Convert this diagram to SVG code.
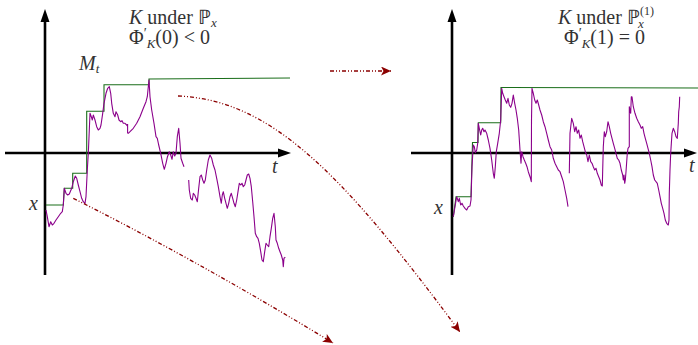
<svg xmlns="http://www.w3.org/2000/svg" width="698" height="345" viewBox="0 0 698 345">
<style>
.axis{stroke:#000;stroke-width:2.6;fill:none}
.tip{fill:#000}
.max{stroke:#1a6e1a;stroke-width:1.1;fill:none}
.path{stroke:#8b008b;stroke-width:1.1;fill:none;stroke-linejoin:round}
.flow{stroke:#8b0000;stroke-width:1.3;fill:none;stroke-dasharray:4 2 1 2 1 2}
text{font-family:"Liberation Serif","Times New Roman",serif;font-size:20px;fill:#333}
.it{font-style:italic}
</style>
<defs>
<marker id="ah" markerUnits="userSpaceOnUse" markerWidth="12" markerHeight="10" refX="10" refY="4.5" orient="auto">
<path d="M0,0 L10,4.5 L0,9 L2.5,4.5 Z" fill="#8b0000"/>
</marker>
</defs>

<g id="left-graph">
<line class="axis" x1="45" y1="275" x2="45" y2="20"/>
<polygon class="tip" points="45,9 40.5,22 49.5,22"/>
<line class="axis" x1="5" y1="153" x2="280" y2="153"/>
<polygon class="tip" points="291,153 278,148.5 278,157.5"/>
<polyline class="max" points="46,205 63.3,205 64.3,188.3 72.7,188.3 72.7,173.3 86.7,173.3 86.7,111.3 104,111.3 104,84.7 149,84.7 149,79 290,78"/>
<path class="path" d="M46,210 L47.3,216.7 49,226.7 50.7,221.7 52.3,225 54,223.3 56,220 58.3,216.7 60.7,213.3 62.3,211.7 63.3,205 64.3,188.3 66,193.3 67.7,195 69.3,194 71.7,188.3 73.3,181.7 75.3,176 76.7,178.3 78.3,185 80,191.7 81.7,198.3 83.3,201.7 85,203.3 86,196.7 87.3,170 88.3,153.3 89.3,130 90,113.3 91.3,116.7 92.3,120 93.3,115 95,120 96.7,126.7 98.3,130 100,128.3 101,125 102.7,113.3 104,103.3 106,93.3 107.7,88.3 109.3,86.7 110.7,93.3 111.7,103.3 113.3,113.3 115,116.7 116,111.7 117.7,115 119,120 120.7,121.7 122,120.7 123.3,123.3 125,123.3 126.7,125 127.3,126 M127.6,124 L127.6,133 128.3,133.3 130,131.7 133.3,128.3 136.7,123.3 140,116.7 143.3,108.3 146,101.7 147.3,96.7 148.3,86.7 149,80 150,96.7 151.7,110 154,123.3 156,136.7 157.3,138.3 158.7,145 160.7,153.3 162.7,163.3 164.3,169.3 166,163.3 167.3,157.3 169.3,151.7 170.7,155 172,159.3 173.3,151.7 174.7,156 176,153.3 177.3,136.7 178.7,128.3 180,143.3 181,158.3 182.7,163.3 184,166.7 M188.7,180 L189.3,190 190.7,198.3 192.3,200 193.3,193.3 194.7,195 196,198.3 197.3,201.7 198.7,188.3 200,176.7 201.3,175 202.7,180 204,183.3 205.3,180 206.7,170 208.3,160 210,155 211.7,158.3 213.3,165 215,170 216.7,178.3 218.3,186.7 220,196.7 221.3,203.3 222.3,195 223.3,191.7 224.7,198.3 226,203.3 227.3,208.3 228.7,203.3 230,196.7 231.3,193.3 232.7,198.3 234,203.3 235.3,206.7 236.7,200 238,191.7 239.3,183.3 240.7,185 242,183.3 243.3,186.7 244.7,185 246,180 247.3,175 248.7,174 250,178.3 251.3,186.7 252.7,201.7 254,216.7 255.3,233.3 256.7,236.7 258,238.3 259.3,243.3 260.7,251.7 262,260 263.3,261.7 264.7,251.7 266,243.3 267.3,245 268.7,246.7 270,236.7 271.3,228.3 272.7,218.3 274,213.3 275.3,226.7 276,240 277.3,243.3 278.7,248.3 280,251.7 281.3,255 282.7,260 283.3,266.7 284,258.3 285.3,257.3"/>
<text x="129" y="24"><tspan class="it">K</tspan> under ℙ<tspan class="it" font-size="13" dy="3">x</tspan></text>
<text x="129" y="44">Φ<tspan font-size="14" dy="-6">′</tspan><tspan class="it" font-size="13" dy="10">K</tspan><tspan dy="-4">(0) &lt; 0</tspan></text>
<text x="79" y="70"><tspan class="it">M</tspan><tspan class="it" font-size="13" dy="3">t</tspan></text>
<text class="it" x="272" y="173">t</text>
<text class="it" x="29" y="210">x</text>
</g>

<g id="right-graph">
<line class="axis" x1="452" y1="275" x2="452" y2="20"/>
<polygon class="tip" points="452,9 447.5,22 456.5,22"/>
<line class="axis" x1="411" y1="153" x2="686" y2="153"/>
<polygon class="tip" points="697,153 684,148.5 684,157.5"/>
<polyline class="max" points="453.3,217 456,196.7 471,196.7 472.5,142.5 478,142.5 478.3,122.7 500.7,122.7 501,87.5 698,88"/>
<path class="path" d="M453.3,216.7 L455,206.7 456.7,196.7 458.3,201.7 459.3,198.3 460.7,205 462,203.3 463.3,206 465,208.3 466.7,210 468.3,206.7 470,206 471,200 472,166.7 473.3,145 474.3,146.7 475.3,152.7 476.7,150 477.7,143.3 478.3,123.3 479.3,128.3 480.7,135 481.7,130 482.7,128.3 484,131.7 485,130 486.7,133.3 488.3,140 490,148.3 491.7,160 493.3,173.3 494.3,178.3 495.3,166.7 496.3,151.7 497.7,143.3 499.3,133.3 500.7,120 501.7,88.3 502.7,93.3 504,96.7 505.3,100 506.7,103.3 508,98.3 509.3,105 510.7,107.3 512,103.3 513.3,95 514.7,103.3 516,110 517.3,118.3 518.7,130 520,150 521,163.3 521.7,151.7 523,156.7 524.3,160 525.7,163.3 527,166.7 528.3,171.7 530,176.7 531.3,181.7 531.5,120 532,88.3 533.3,93.3 534.7,100 536,103.3 537.3,100 538.7,105 540,110 541.7,115 543.3,121.7 545,126.7 546.7,133.3 548.3,140 550,146.7 551.7,150 553.3,158.3 555,163.3 556.7,166.7 558.3,170 560,171.7 561.7,176.7 563.3,181.7 565,190 566.7,198.3 568,206.7 M569.3,173.3 L570,133.3 571.7,118.3 573.3,123.3 574.7,131.7 576,126.7 577.3,133.3 578.7,130 580,138.3 581.3,135 582.7,141.7 584,146.7 585.3,151.7 586.7,155 588,161.7 589.3,155 590.7,161.7 592,163.3 593.3,166.7 594.7,170 596,168.3 597.3,173.3 598.7,176.7 600,180 601.3,185 602.3,186 602.7,170 603.3,146.7 604.3,131.7 605.3,136.7 606.7,131.7 608,121.7 609.3,126.7 610.7,133.3 612,138.3 613.3,143.3 614.7,148.3 616,153.3 617.3,158.3 618.7,160 620,163.3 621.3,170 622.7,175 623.3,180 624,175 624.7,183.3 625.3,180 626,171.7 626.7,161.7 627.3,153.3 628,148.3 629.3,146.7 629.3,106.7 630.7,113.3 631.3,96.7 632,96.7 633.3,106.7 635,113.3 636.7,118.3 638.3,121.7 640,125 641.3,128.3 642.7,126.7 644,133.3 645.3,138.3 646.7,143.3 648,148.3 649.3,153.3 650.7,160 652,166.7 653.3,175 654.7,180 656,181.7 657.3,183.3 658.7,190 660,196.7 661.3,203.3 662.7,208.3 664,213.3 665.3,220 666.7,223.3 668.3,225 669,220 669.3,193.3 670,170 670.7,153.3 672,133.3 673.3,128.3 674.7,131.7 676,136.7 677.3,138.3 678.3,123.3 678.7,111.7 679.3,106.7 679.7,96.7"/>
<text x="558" y="24"><tspan class="it">K</tspan> under ℙ<tspan font-size="12" dy="-9">(1)</tspan><tspan class="it" font-size="13" dx="-16" dy="13">x</tspan></text>
<text x="564" y="44">Φ<tspan font-size="14" dy="-6">′</tspan><tspan class="it" font-size="13" dy="10">K</tspan><tspan dy="-4">(1) = 0</tspan></text>
<text class="it" x="689" y="172">t</text>
<text class="it" x="434" y="214">x</text>
</g>

<g id="connectors">
<path class="flow" d="M73.3,198.3 Q200,262 333,343" marker-end="url(#ah)"/>
<path class="flow" d="M178,96 C270,100 340,170 460,332" marker-end="url(#ah)"/>
<path class="flow" d="M330,71 L391,71" marker-end="url(#ah)"/>
</g>
</svg>
